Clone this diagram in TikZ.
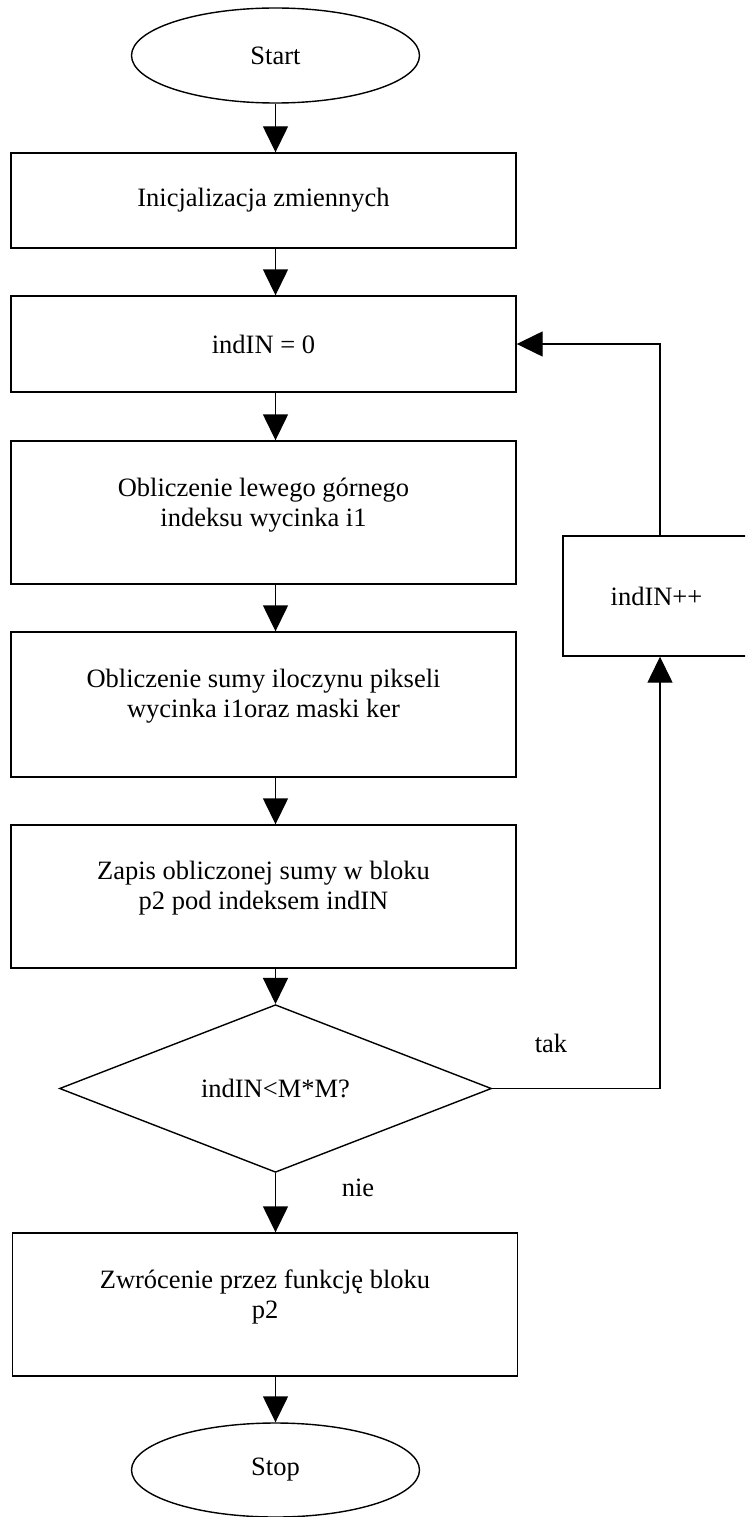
\documentclass[tikz,border=0pt]{standalone}
\usepackage{fontspec}
\setmainfont{Liberation Serif}
\usetikzlibrary{shapes.geometric,arrows.meta}
\begin{document}
\begin{tikzpicture}[x=1pt,y=-1pt,
  every node/.style={font=\fontsize{26.5}{30}\selectfont},
  box/.style={draw,line width=1.4pt,rectangle,inner sep=0pt,minimum width=505pt},
  term/.style={draw,line width=1.4pt,ellipse,inner sep=0pt,minimum width=288pt,minimum height=95pt},
  dec/.style={draw,line width=1.4pt,diamond,inner sep=0pt,minimum width=432pt,minimum height=143pt},
  txt/.style={align=center,inner sep=0pt},
  lbl/.style={inner sep=0pt},
  arr/.style={line width=1.4pt,-{Triangle[length=26pt,width=25pt]}},
  conn/.style={line width=1.4pt}]
\clip (0,0) rectangle (745,1517);
\fill[white] (0,0) rectangle (745,1517);

\coordinate (ax) at (275.5,0);
\coordinate (lx) at (660,0);

\node[term] (start) at (275.5,55.5) {Start};
\node[box,minimum height=95pt] (b1) at (263.5,200.5) {Inicjalizacja zmiennych};
\node[box,minimum height=96pt] (b2) at (263.5,344) {indIN = 0};
\node[box,minimum height=143pt] (b3) at (263.5,512.5) {};
\node[txt] (t3) at (263.5,505.5) {Obliczenie lewego górnego\\indeksu wycinka i1};
\node[box,minimum height=145pt] (b4) at (263.5,704.5) {};
\node[txt] (t4) at (263.5,696) {Obliczenie sumy iloczynu pikseli\\wycinka i1oraz maski ker};
\node[box,minimum height=143pt] (b5) at (263.5,896.5) {};
\node[txt] (t5) at (263.5,888.5) {Zapis obliczonej sumy w bloku\\p2 pod indeksem indIN};
\node[dec] (d) at (275.5,1088.5) {indIN<M*M?};
\node[box,minimum height=143pt] (b6) at (265,1304.5) {};
\node[txt] (t6) at (265,1297) {Zwrócenie przez funkcję bloku\\p2};
\node[term,minimum height=94pt] (stop) at (275.5,1470) {Stop};
\node[box,minimum width=187pt,minimum height=120pt] (b7) at (656.5,596) {indIN++};

\node[lbl] (tak) at (551,1043) {tak};
\node[lbl] (nie) at (358,1188) {nie};

\draw[arr] (start.south) -- (start.south |- b1.north);
\draw[arr] (b1.south -| ax) -- (b2.north -| ax);
\draw[arr] (b2.south -| ax) -- (b3.north -| ax);
\draw[arr] (b3.south -| ax) -- (b4.north -| ax);
\draw[arr] (b4.south -| ax) -- (b5.north -| ax);
\draw[arr] (b5.south -| ax) -- (d.north);
\draw[arr] (d.south) -- (d.south |- b6.north);
\draw[arr] (b6.south -| ax) -- (stop.north);
\draw[arr] (d.east) -- (d.east -| lx) -- (b7.south -| lx);
\draw[arr] (b7.north -| lx) -- (lx |- b2.east) -- (b2.east);
\end{tikzpicture}
\end{document}
